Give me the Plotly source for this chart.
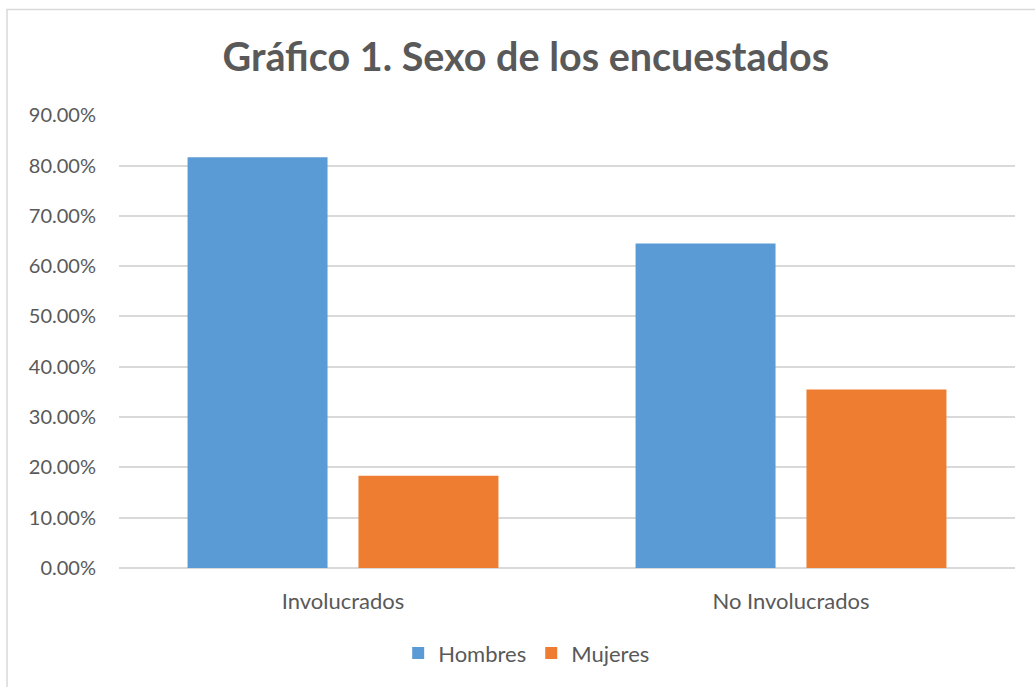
import plotly.graph_objects as go

# datos del grafico
categorias = ["Involucrados", "No Involucrados"]
hombres = [0.8167, 0.6452]
mujeres = [0.1833, 0.3548]
ticks_y = [0, 0.1, 0.2, 0.3, 0.4, 0.5, 0.6, 0.7, 0.8, 0.9]

fig = go.Figure()

fig.add_trace(go.Bar(
    x=categorias, y=hombres, name="Hombres",
    marker=dict(color="#5B9BD5", line=dict(width=0))
))
fig.add_trace(go.Bar(
    x=categorias, y=mujeres, name="Mujeres",
    marker=dict(color="#EF7D31", line=dict(width=0))
))

fig.update_layout(
    width=1035, height=687,
    paper_bgcolor="white", plot_bgcolor="white",
    margin=dict(l=119, r=20, t=115, b=119),
    barmode="group", bargap=0.237, bargroupgap=0.181,
    font=dict(family="Lato, Open Sans, sans-serif", size=21, color="#595959"),
    title=dict(text="<b>Gráfico 1. Sexo de los encuestados</b>",
               x=0.508, xanchor="center", y=0.917, yanchor="middle",
               font=dict(size=39.5, color="#595959")),
    showlegend=True,
    legend=dict(orientation="h", x=0.455, xanchor="center", y=-0.188, yanchor="middle",
                font=dict(size=22, color="#595959"), itemwidth=30, traceorder="normal"),
    xaxis=dict(showgrid=False, showline=False, ticks="", ticklabelstandoff=18,
               tickfont=dict(size=22)),
    yaxis=dict(range=[0, 0.9005], tickvals=ticks_y, tickformat=".2%",
               showgrid=True, gridcolor="#D9D9D9", gridwidth=1.5,
               zeroline=True, zerolinecolor="#D9D9D9", zerolinewidth=1.5,
               showline=False, ticks="", ticklabelstandoff=22, tickfont=dict(size=20)),
)

# marco del grafico
fig.add_shape(type="rect", xref="paper", yref="paper",
              x0=-0.125, x1=1.05, y0=-0.3, y1=1.233,
              line=dict(color="#D9D9D9", width=1.5), layer="below")

fig.write_html("out.html", config={"displayModeBar": False},
               post_script="document.body.style.margin='0';")
